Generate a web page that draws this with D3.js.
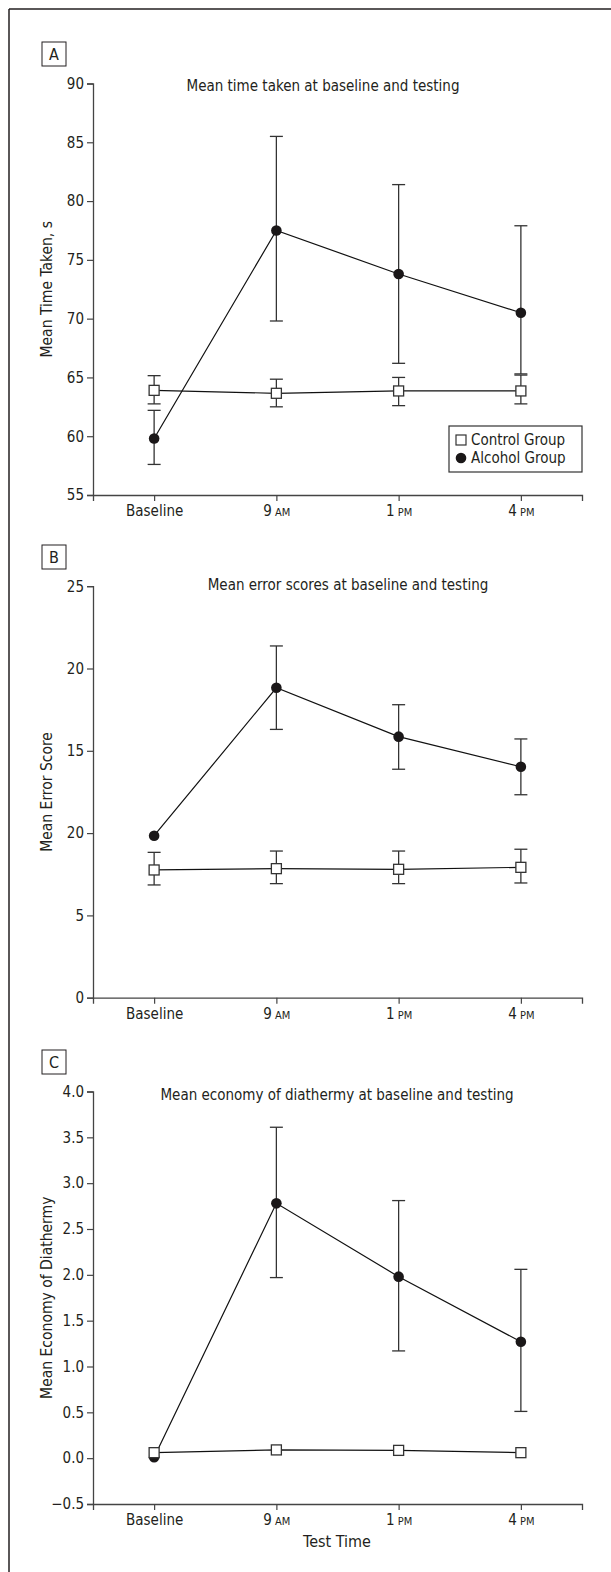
<!DOCTYPE html>
<html>
<head>
<meta charset="utf-8">
<script src="https://cdn.jsdelivr.net/npm/d3@7"></script>
<style>
  body { margin: 0; background: #fff; }
  svg text { font-family: "DejaVu Sans Condensed", "Liberation Sans Narrow", sans-serif; fill: #231f20; }
</style>
</head>
<body>
<svg id="chart" width="611" height="1572"></svg>
<script>
// categories on the x axis (small caps suffix drawn smaller)
var timeLabels = ["Baseline", "9", "1", "4"];
var timeSuffix = ["", "AM", "PM", "PM"];
var groupNames = ["Control Group", "Alcohol Group"];

// Panel A - mean time taken, s
var timeTicks = [55, 60, 65, 70, 75, 80, 85, 90];
var timeControlMean = [63.9, 63.65, 63.85, 63.85];
var timeControlLow = [62.75, 62.5, 62.6, 62.75];
var timeControlHigh = [65.15, 64.85, 65.0, 65.2];
var timeAlcoholMean = [59.8, 77.5, 73.8, 70.5];
var timeAlcoholLow = [57.6, 69.8, 66.2, 65.3];
var timeAlcoholHigh = [62.2, 85.5, 81.4, 77.9];

// Panel B - mean error score (the 10 tick is printed as "20" in the original)
var errorTicks = [0, 5, 10, 15, 20, 25];
var errorTickLabels = ["0", "5", "20", "15", "20", "25"];
var errorControlMean = [7.76, 7.84, 7.8, 7.92];
var errorControlLow = [6.85, 6.93, 6.93, 6.97];
var errorControlHigh = [8.83, 8.91, 8.91, 9.02];
var errorAlcoholMean = [9.84, 18.83, 15.86, 14.03];
var errorAlcoholLow = [null, 16.3, 13.88, 12.33];
var errorAlcoholHigh = [null, 21.37, 17.8, 15.72];

// Panel C - mean economy of diathermy
var econTicks = [-0.5, 0, 0.5, 1, 1.5, 2, 2.5, 3, 3.5, 4];
var econControlMean = [0.06, 0.09, 0.085, 0.06];
var econAlcoholMean = [0.01, 2.78, 1.98, 1.27];
var econAlcoholLow = [null, 1.97, 1.17, 0.51];
var econAlcoholHigh = [null, 3.61, 2.81, 2.06];

var svg = d3.select("#chart");
var ink = "#231f20";

// outer frame: only left and top rules
svg.append("line").attr("x1", 9).attr("y1", 9).attr("x2", 611).attr("y2", 9)
  .attr("stroke", ink).attr("stroke-width", 1.5);
svg.append("line").attr("x1", 9).attr("y1", 9).attr("x2", 9).attr("y2", 1572)
  .attr("stroke", ink).attr("stroke-width", 1.5);

var x = d3.scalePoint().domain(d3.range(4)).range([93, 582]).padding(0.5);

function zip(mean, low, high) {
  return mean.map(function(m, i) {
    return { i: i, mean: m, low: low ? low[i] : null, high: high ? high[i] : null };
  });
}

function drawPanel(p) {
  var g = svg.append("g");
  var y = d3.scaleLinear().domain(d3.extent(p.ticks)).range(p.yRange);

  // panel letter
  g.append("rect").attr("x", 42).attr("y", p.boxY).attr("width", 24).attr("height", 24)
    .attr("fill", "none").attr("stroke", ink).attr("stroke-width", 1);
  g.append("text").attr("x", 54).attr("y", p.boxY + 18).attr("text-anchor", "middle")
    .style("font-size", "16px").text(p.letter);

  // title
  g.append("text").attr("x", p.titleX).attr("y", p.yRange[1] + p.titleDy)
    .attr("text-anchor", "middle").style("font-size", "15px").text(p.title);

  // y axis
  var yAxis = d3.axisLeft(y).tickValues(p.ticks).tickSizeOuter(0).tickSize(6).tickPadding(3)
    .tickFormat(function(d, i) { return p.tickLabels ? p.tickLabels[i] : p.fmt(d); });
  var ya = g.append("g").attr("transform", "translate(93,0)").call(yAxis);
  ya.selectAll("text").style("font-size", "15px").attr("fill", ink);

  // x axis
  var xAxis = d3.axisBottom(x).tickSizeOuter(0).tickSize(6).tickPadding(5).tickFormat("");
  var xa = g.append("g").attr("transform", "translate(0," + p.yRange[0] + ")").call(xAxis);
  xa.selectAll(".tick").append("text")
    .attr("y", 21).attr("text-anchor", "middle").attr("fill", ink)
    .style("font-size", "15px")
    .each(function(d) {
      var t = d3.select(this);
      t.append("tspan").text(timeLabels[d]);
      if (timeSuffix[d]) t.append("tspan").style("font-size", "11px").text(" " + timeSuffix[d]);
    });
  [ya, xa].forEach(function(a) {
    a.select(".domain").attr("stroke", "#444").attr("stroke-width", 1.3);
    a.selectAll(".tick line").attr("stroke", "#444").attr("stroke-width", 1.2);
  });

  // y label
  g.append("text")
    .attr("transform", "translate(47," + ((p.yRange[0] + p.yRange[1]) / 2) + ") rotate(-90)")
    .attr("text-anchor", "middle").attr("dy", "0.35em").style("font-size", "15.5px").text(p.yLabel);

  if (p.xLabel) {
    g.append("text").attr("x", 337).attr("y", p.yRange[0] + 43).attr("text-anchor", "middle")
      .style("font-size", "16px").text(p.xLabel);
  }

  var series = [p.alcohol, p.control];

  // error bars
  series.forEach(function(s) {
    var eb = g.append("g").selectAll("g").data(s.filter(function(d) { return d.low != null; }))
      .enter().append("g").attr("stroke", "#333").attr("stroke-width", 1.3);
    eb.append("line").attr("x1", function(d) { return x(d.i); }).attr("x2", function(d) { return x(d.i); })
      .attr("y1", function(d) { return y(d.low); }).attr("y2", function(d) { return y(d.high); });
    eb.append("line").attr("x1", function(d) { return x(d.i) - 6.5; }).attr("x2", function(d) { return x(d.i) + 6.5; })
      .attr("y1", function(d) { return y(d.high); }).attr("y2", function(d) { return y(d.high); });
    eb.append("line").attr("x1", function(d) { return x(d.i) - 6.5; }).attr("x2", function(d) { return x(d.i) + 6.5; })
      .attr("y1", function(d) { return y(d.low); }).attr("y2", function(d) { return y(d.low); });
  });

  // lines
  var line = d3.line().x(function(d) { return x(d.i); }).y(function(d) { return y(d.mean); });
  series.forEach(function(s) {
    g.append("path").datum(s).attr("d", line).attr("fill", "none")
      .attr("stroke", "#111").attr("stroke-width", 1.2);
  });

  // markers: circles below, squares on top
  g.append("g").selectAll("circle").data(p.alcohol).enter().append("circle")
    .attr("cx", function(d) { return x(d.i); }).attr("cy", function(d) { return y(d.mean); })
    .attr("r", 5.3).attr("fill", "#1a1718");
  g.append("g").selectAll("rect").data(p.control).enter().append("rect")
    .attr("x", function(d) { return x(d.i) - 5; }).attr("y", function(d) { return y(d.mean) - 5; })
    .attr("width", 10).attr("height", 10)
    .attr("fill", "#fff").attr("stroke", "#333").attr("stroke-width", 1.3);

  return g;
}

var gA = drawPanel({
  letter: "A", boxY: 42, title: "Mean time taken at baseline and testing", titleX: 323, titleDy: 7,
  ticks: timeTicks, fmt: d3.format("d"), yRange: [495, 83.5], yLabel: "Mean Time Taken, s",
  control: zip(timeControlMean, timeControlLow, timeControlHigh),
  alcohol: zip(timeAlcoholMean, timeAlcoholLow, timeAlcoholHigh)
});

drawPanel({
  letter: "B", boxY: 545, title: "Mean error scores at baseline and testing", titleX: 348, titleDy: 4,
  ticks: errorTicks, tickLabels: errorTickLabels, yRange: [997.7, 586.2], yLabel: "Mean Error Score",
  control: zip(errorControlMean, errorControlLow, errorControlHigh),
  alcohol: zip(errorAlcoholMean, errorAlcoholLow, errorAlcoholHigh)
});

drawPanel({
  letter: "C", boxY: 1050, title: "Mean economy of diathermy at baseline and testing", titleX: 337, titleDy: 8.5,
  ticks: econTicks, fmt: d3.format(".1f"), yRange: [1504, 1091.5], yLabel: "Mean Economy of Diathermy",
  xLabel: "Test Time",
  control: zip(econControlMean, null, null),
  alcohol: zip(econAlcoholMean, econAlcoholLow, econAlcoholHigh)
});

// legend in panel A
var legend = gA.append("g").attr("transform", "translate(449,426)");
legend.append("rect").attr("width", 133).attr("height", 46)
  .attr("fill", "#fff").attr("stroke", "#333").attr("stroke-width", 1.2);
var items = legend.selectAll(".item").data(groupNames).enter().append("g")
  .attr("class", "item").attr("transform", function(d, i) { return "translate(0," + (14 + i * 18) + ")"; });
items.each(function(d, i) {
  var it = d3.select(this);
  if (i === 0) {
    it.append("rect").attr("x", 7).attr("y", -5).attr("width", 10).attr("height", 10)
      .attr("fill", "#fff").attr("stroke", "#333").attr("stroke-width", 1.2);
  } else {
    it.append("circle").attr("cx", 12).attr("cy", 0).attr("r", 5.3).attr("fill", "#1a1718");
  }
  it.append("text").attr("x", 22).attr("dy", "0.36em").style("font-size", "15px").text(d);
});
</script>
</body>
</html>
